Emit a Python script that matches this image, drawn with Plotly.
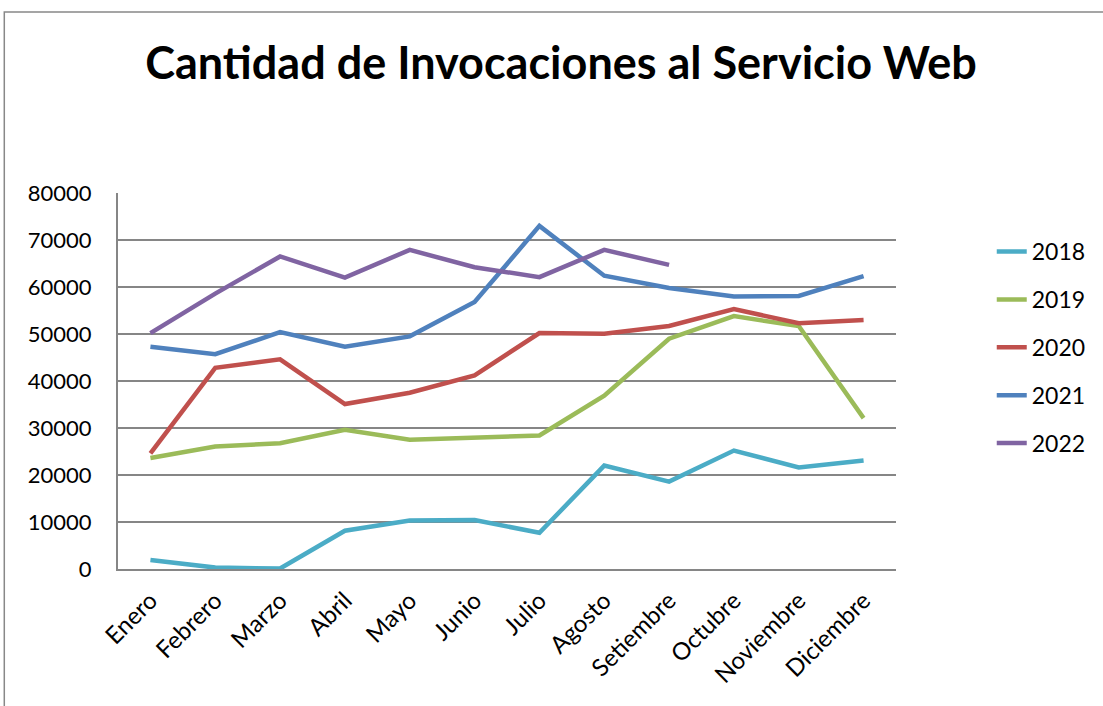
import plotly.graph_objects as go

months = ["Enero", "Febrero", "Marzo", "Abril", "Mayo", "Junio", "Julio",
          "Agosto", "Setiembre", "Octubre", "Noviembre", "Diciembre"]
y2018 = [1900, 300, 100, 8150, 10300, 10400, 7700, 22000, 18600, 25200, 21600, 23100]
y2019 = [23600, 26050, 26750, 29600, 27500, 28000, 28400, 36900, 49000, 53800, 51700, 32100]
y2020 = [24600, 42800, 44600, 35100, 37500, 41200, 50200, 50050, 51700, 55300, 52300, 53000]
y2021 = [47300, 45700, 50400, 47300, 49500, 56800, 73000, 62400, 59800, 58000, 58100, 62300]
y2022 = [50200, 58600, 66500, 62000, 67900, 64200, 62100, 67900, 64700, None, None, None]
yticks = [0, 10000, 20000, 30000, 40000, 50000, 60000, 70000, 80000]

series = [("2018", y2018, "#4BACC6"), ("2019", y2019, "#9BBB59"),
          ("2020", y2020, "#C0504D"), ("2021", y2021, "#4F81BD"),
          ("2022", y2022, "#8064A2")]

fig = go.Figure()
for name, ys, col in series:
    fig.add_trace(go.Scatter(x=months, y=ys, name=name, mode="lines",
                             line=dict(color=col, width=4.5), legendgroup=name))

W, H = 1103, 706
L, R, T, B = 118, 898, 193, 569

fig.update_layout(
    width=W, height=H,
    margin=dict(l=L, r=W - R, t=T, b=H - B),
    paper_bgcolor="white", plot_bgcolor="white",
    font=dict(family="Lato", size=22, color="black"),
    title=dict(text="<b>Cantidad de Invocaciones al Servicio Web</b>",
               font=dict(family="Lato", size=45, color="black"),
               x=561 / W, xref="container", xanchor="center",
               y=1 - 63 / H, yref="container", yanchor="middle"),
    showlegend=True,
    legend=dict(x=(994 - L) / (R - L), y=(B - 253) / (B - T) + 0.061,
                xanchor="left", yanchor="top",
                font=dict(family="Lato", size=23), tracegroupgap=15,
                bgcolor="rgba(0,0,0,0)"),
    xaxis=dict(type="category", categoryorder="array", categoryarray=months,
               tickangle=-45, showgrid=False, showline=True, linecolor="#868686",
               linewidth=2, ticks="", tickfont=dict(family="Lato", size=24),
               ticklabelstandoff=6, range=[-0.5, 11.5]),
    yaxis=dict(range=[0, 80000], tickvals=yticks, tickformat="d",
               showgrid=True, gridcolor="#868686", gridwidth=2,
               showline=True, linecolor="#868686", linewidth=2, ticks="",
               ticklabelstandoff=20,
               zeroline=False, tickfont=dict(family="Lato", size=22)),
    shapes=[dict(type="rect", xref="paper", yref="paper",
                 x0=(4 - L) / (R - L), x1=(1300 - L) / (R - L),
                 y0=(B - 900) / (B - T), y1=(B - 12) / (B - T),
                 line=dict(color="#888888", width=1.5), layer="below")],
)

fig.write_html("out.html", config={"displayModeBar": False},
               post_script="document.body.style.margin='0px';")
